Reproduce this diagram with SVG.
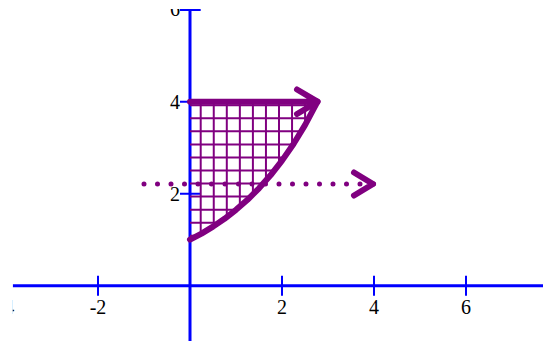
<svg xmlns="http://www.w3.org/2000/svg" width="543" height="341" viewBox="0 0 543 341">
  <style>
    .axis { stroke: #0000ff; stroke-width: 3; fill: none; }
    .tick { stroke: #0000ff; stroke-width: 2; fill: none; }
    .lbl { font-family: "Liberation Serif", "Times New Roman", serif; font-size: 20px; fill: #000000; }
    .grid { stroke: #800080; stroke-width: 2; fill: none; }
    .thick { stroke: #800080; stroke-width: 6; fill: none; stroke-linecap: round; stroke-linejoin: round; }
    .dots { stroke: #800080; stroke-width: 5; fill: none; stroke-linecap: round; stroke-dasharray: 0 13.5; }
  </style>
  <defs>
    <clipPath id="plotClip">
      <rect x="12.7" y="9" width="531" height="332"/>
    </clipPath>
    <clipPath id="regionClip">
      <path d="M190,101.7 L317.5,101.7 L305,125.14 L293.5,144.01 L282,160.66 L270.5,175.35 L259,188.32 L247.5,199.76 L236,209.86 L224.5,218.77 L213,226.63 L201.5,233.58 L190,239.7 Z"/>
    </clipPath>
  </defs>
  <rect x="0" y="0" width="543" height="341" fill="#ffffff"/>

  <g id="axes" clip-path="url(#plotClip)">
    <line class="axis" x1="12.7" y1="285.7" x2="543" y2="285.7"/>
    <line class="axis" x1="190" y1="10" x2="190" y2="341"/>
    <line class="tick" x1="6" y1="275.7" x2="6" y2="295.7"/>
    <line class="tick" x1="98" y1="275.7" x2="98" y2="295.7"/>
    <line class="tick" x1="282" y1="275.7" x2="282" y2="295.7"/>
    <line class="tick" x1="374" y1="275.7" x2="374" y2="295.7"/>
    <line class="tick" x1="466" y1="275.7" x2="466" y2="295.7"/>
    <line class="tick" x1="180" y1="193.7" x2="200" y2="193.7"/>
    <line class="tick" x1="180" y1="101.7" x2="200" y2="101.7"/>
    <line class="tick" x1="180" y1="10" x2="200.7" y2="10"/>
    <text class="lbl" x="6" y="313.5" text-anchor="middle">-4</text>
    <text class="lbl" x="98" y="313.5" text-anchor="middle">-2</text>
    <text class="lbl" x="282" y="313.5" text-anchor="middle">2</text>
    <text class="lbl" x="374" y="313.5" text-anchor="middle">4</text>
    <text class="lbl" x="466" y="313.5" text-anchor="middle">6</text>
    <text class="lbl" x="180" y="201" text-anchor="end">2</text>
    <text class="lbl" x="180" y="109" text-anchor="end">4</text>
    <text class="lbl" x="180" y="16" text-anchor="end">6</text>
  </g>

  <g id="region-grid" clip-path="url(#regionClip)">
    <path class="grid" d="M187.65,95 V245 M200.7,95 V245 M213.75,95 V245 M226.8,95 V245 M239.85,95 V245 M252.9,95 V245 M265.95,95 V245 M279,95 V245 M292.05,95 V245 M305.1,95 V245 M318.15,95 V245"/>
    <path class="grid" d="M185,105.25 H325 M185,118.3 H325 M185,131.35 H325 M185,144.4 H325 M185,157.45 H325 M185,170.5 H325 M185,183.55 H325 M185,196.6 H325 M185,209.65 H325 M185,222.7 H325 M185,235.75 H325"/>
  </g>

  <g id="connectors">
    <path id="curve" class="thick" d="M190,239.7 L201.5,233.58 L213,226.63 L224.5,218.77 L236,209.86 L247.5,199.76 L259,188.32 L270.5,175.35 L282,160.66 L293.5,144.01 L305,125.14 L317.5,101.7"/>
    <path id="top-arrow" class="thick" d="M190,101.7 H317.5 M297,89.5 L317.5,101.7 L297,114"/>
    <path id="dotted-line" class="dots" d="M144,184 H374"/>
    <path id="dotted-arrowhead" class="thick" d="M354,172.5 L373,184 L354,195.5"/>
  </g>
</svg>
